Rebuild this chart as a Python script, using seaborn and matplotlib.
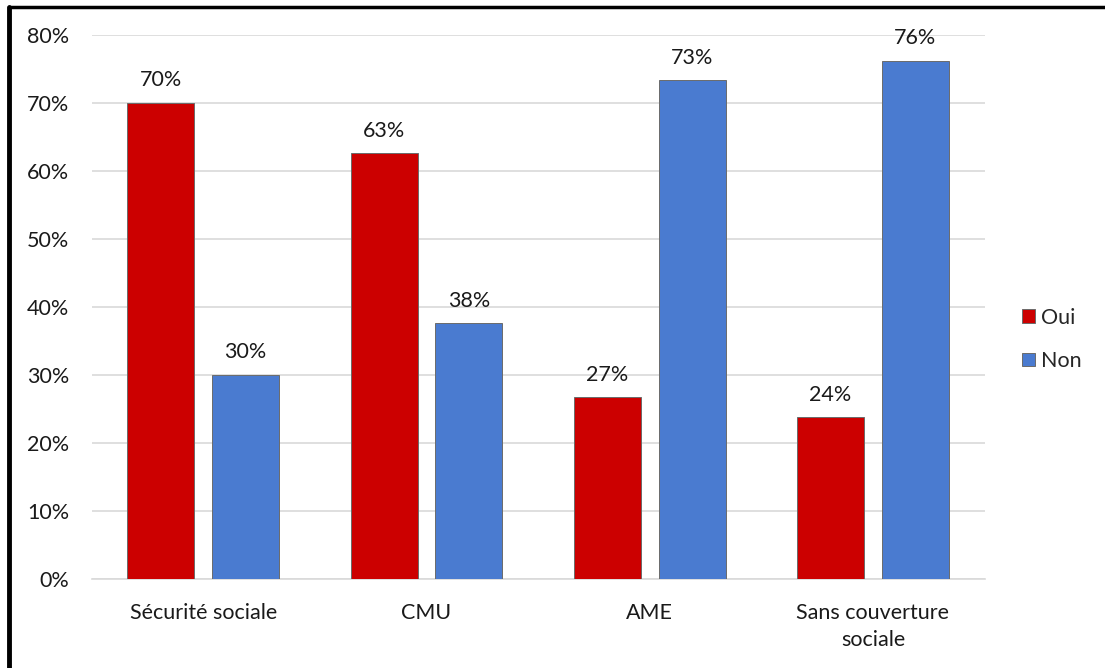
import pandas as pd
import matplotlib.pyplot as plt
import seaborn as sns
from matplotlib.lines import Line2D
from matplotlib.ticker import PercentFormatter

categories = ["Sécurité sociale", "CMU", "AME", "Sans couverture\nsociale"]
oui = [70.0, 62.6, 26.7, 23.8]
non = [30.0, 37.6, 73.3, 76.2]
series = ["Oui", "Non"]
colors = {"Oui": "#CC0000", "Non": "#4A7BD0"}

df = pd.DataFrame({
    "cat": categories * 2,
    "val": oui + non,
    "rep": ["Oui"] * 4 + ["Non"] * 4,
})

sns.set_theme(style="white")
plt.rcParams['font.family'] = ['Lato', 'DejaVu Sans']

fig = plt.figure(figsize=(11.05, 6.68), dpi=100)
ax = fig.add_axes([0.083, 0.133, 0.808, 0.815])

sns.barplot(data=df, x="cat", y="val", hue="rep", hue_order=series,
            palette=colors, saturation=1, width=0.76, gap=0.21, ax=ax, legend=False,
            edgecolor="#6b6b6b", linewidth=0.7, zorder=3)

for cont in ax.containers:
    ax.bar_label(cont, labels=[f"{v:.0f}%" for v in cont.datavalues],
                 padding=9, fontsize=15.5, color="#1a1a1a")

ax.set_ylim(0, 80)
ax.set_yticks(range(0, 81, 10))
ax.yaxis.set_major_formatter(PercentFormatter(decimals=0))
ax.grid(axis="y", color="#d9d9d9", linewidth=1.2, zorder=0)
ax.set_axisbelow(True)
for s in ["top", "right", "left"]:
    ax.spines[s].set_visible(False)
ax.spines["bottom"].set_color("#d9d9d9")
ax.spines["bottom"].set_linewidth(1.2)
ax.tick_params(axis="both", length=0, labelsize=15.5, colors="#1a1a1a")
ax.tick_params(axis="x", pad=17)
ax.tick_params(axis="y", pad=16)
for lbl in ax.get_xticklabels():
    lbl.set_linespacing(1.45)
ax.set_xlabel("")
ax.set_ylabel("")

handles = [plt.Rectangle((0, 0), 1, 1, facecolor=colors[s], edgecolor="#6b6b6b", linewidth=0.7)
           for s in series]
fig.legend(handles, series, loc="center left", bbox_to_anchor=(0.907, 0.492),
           frameon=False, fontsize=15.5, handlelength=0.6, handleheight=0.6,
           handletextpad=0.3, labelspacing=1.1)

# black frame on top and left edges
fig.add_artist(Line2D([0.0085, 1.0], [0.9895, 0.9895], color="black", linewidth=2.5,
                      transform=fig.transFigure))
fig.add_artist(Line2D([0.0085, 0.0085], [0.0, 0.9895], color="black", linewidth=3.5,
                      transform=fig.transFigure))

fig.savefig("out.png", dpi=100)
